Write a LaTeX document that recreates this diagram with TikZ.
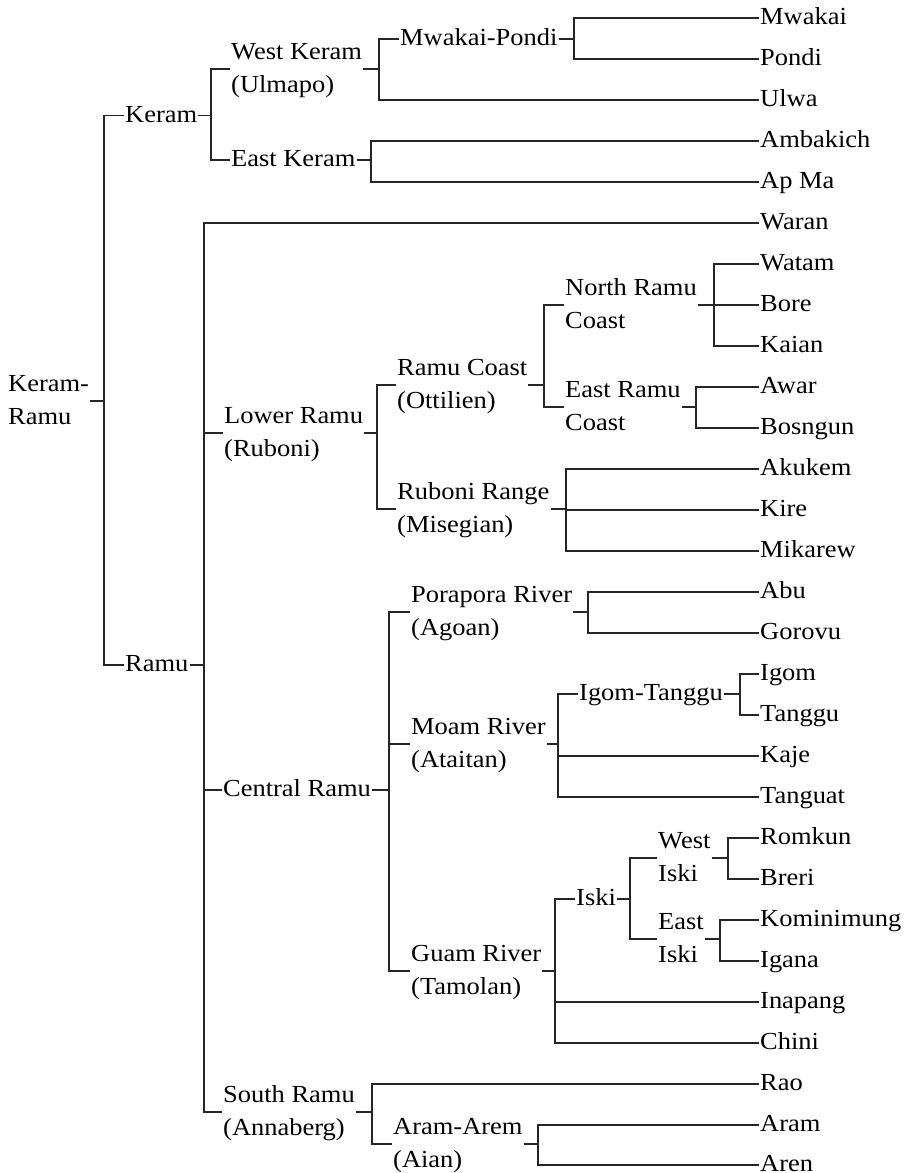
\documentclass[tikz,border=0pt]{standalone}
\usepackage{fontspec}
\setmainfont{Liberation Serif}[FakeStretch=1.08]
\tikzset{
  lbl/.style={anchor=west, align=left, inner sep=1pt, font=\fontsize{24.5}{33}\selectfont},
  link/.style={draw=black!85, line width=1.1pt},
}
\newcommand\tedge[3]{\draw[link] (#1.east) -- (#1.east -| #2) |- (#3.west);}
\newcommand\lf[3]{\node[lbl] (#1) at (759pt,-#2pt) {#3\strut};}
\begin{document}
\begin{tikzpicture}
\useasboundingbox (0,0) rectangle (908pt,-1173pt);
% internal nodes
\node[lbl] (root) at (7pt,-401pt) {Keram-\strut\\Ramu\strut};
\node[lbl] (keram) at (124pt,-115.7pt) {Keram\strut};
\node[lbl] (wk) at (230pt,-69pt) {West Keram\strut\\(Ulmapo)\strut};
\node[lbl] (mp) at (399pt,-39pt) {Mwakai-Pondi\strut};
\node[lbl] (ek) at (230pt,-160pt) {East Keram\strut};
\node[lbl] (ramu) at (124pt,-665pt) {Ramu\strut};
\node[lbl] (lr) at (223pt,-433pt) {Lower Ramu\strut\\(Ruboni)\strut};
\node[lbl] (rc) at (396pt,-385pt) {Ramu Coast\strut\\(Ottilien)\strut};
\node[lbl] (nrc) at (564pt,-305pt) {North Ramu\strut\\Coast\strut};
\node[lbl] (erc) at (564pt,-407pt) {East Ramu\strut\\Coast\strut};
\node[lbl] (rr) at (396pt,-509pt) {Ruboni Range\strut\\(Misegian)\strut};
\node[lbl] (cr) at (222pt,-790pt) {Central Ramu\strut};
\node[lbl] (pr) at (410pt,-612pt) {Porapora River\strut\\(Agoan)\strut};
\node[lbl] (mr) at (410pt,-744pt) {Moam River\strut\\(Ataitan)\strut};
\node[lbl] (it) at (578pt,-694pt) {Igom-Tanggu\strut};
\node[lbl] (gr) at (410pt,-971pt) {Guam River\strut\\(Tamolan)\strut};
\node[lbl] (iski) at (575pt,-899pt) {Iski\strut};
\node[lbl] (wi) at (657pt,-858pt) {West\strut\\Iski\strut};
\node[lbl] (ei) at (657pt,-939pt) {East\strut\\Iski\strut};
\node[lbl] (sr) at (222pt,-1112pt) {South Ramu\strut\\(Annaberg)\strut};
\node[lbl] (aa) at (392pt,-1144pt) {Aram-Arem\strut\\(Aian)\strut};
% leaves
\lf{mwakai}{18}{Mwakai}
\lf{pondi}{59}{Pondi}
\lf{ulwa}{100}{Ulwa}
\lf{ambakich}{141}{Ambakich}
\lf{apma}{182}{Ap Ma}
\lf{waran}{223}{Waran}
\lf{watam}{264}{Watam}
\lf{bore}{305}{Bore}
\lf{kaian}{346}{Kaian}
\lf{awar}{387}{Awar}
\lf{bosngun}{428}{Bosngun}
\lf{akukem}{469}{Akukem}
\lf{kire}{510}{Kire}
\lf{mikarew}{551}{Mikarew}
\lf{abu}{592}{Abu}
\lf{gorovu}{633}{Gorovu}
\lf{igom}{674}{Igom}
\lf{tanggu}{715}{Tanggu}
\lf{kaje}{756}{Kaje}
\lf{tanguat}{797}{Tanguat}
\lf{romkun}{838}{Romkun}
\lf{breri}{879}{Breri}
\lf{kominimung}{920}{Kominimung}
\lf{igana}{961}{Igana}
\lf{inapang}{1002}{Inapang}
\lf{chini}{1043}{Chini}
\lf{rao}{1084}{Rao}
\lf{aram}{1125}{Aram}
\lf{aren}{1165}{Aren}
% bar coordinates
\coordinate (b-root) at (104pt,0);
\coordinate (b-keram) at (211pt,0);
\coordinate (b-wk) at (379pt,0);
\coordinate (b-mp) at (574pt,0);
\coordinate (b-ek) at (371pt,0);
\coordinate (b-ramu) at (204pt,0);
\coordinate (b-lr) at (377pt,0);
\coordinate (b-rc) at (544pt,0);
\coordinate (b-nrc) at (714pt,0);
\coordinate (b-erc) at (696pt,0);
\coordinate (b-rr) at (566pt,0);
\coordinate (b-cr) at (389pt,0);
\coordinate (b-pr) at (588pt,0);
\coordinate (b-mr) at (558pt,0);
\coordinate (b-it) at (740pt,0);
\coordinate (b-gr) at (555pt,0);
\coordinate (b-iski) at (630pt,0);
\coordinate (b-wi) at (728pt,0);
\coordinate (b-ei) at (720pt,0);
\coordinate (b-sr) at (372pt,0);
\coordinate (b-aa) at (538pt,0);
% connectors
\tedge{root}{b-root}{keram}
\tedge{root}{b-root}{ramu}
\tedge{keram}{b-keram}{wk}
\tedge{keram}{b-keram}{ek}
\tedge{wk}{b-wk}{mp}
\tedge{wk}{b-wk}{ulwa}
\tedge{mp}{b-mp}{mwakai}
\tedge{mp}{b-mp}{pondi}
\tedge{ek}{b-ek}{ambakich}
\tedge{ek}{b-ek}{apma}
\tedge{ramu}{b-ramu}{waran}
\tedge{ramu}{b-ramu}{lr}
\tedge{ramu}{b-ramu}{cr}
\tedge{ramu}{b-ramu}{sr}
\tedge{lr}{b-lr}{rc}
\tedge{lr}{b-lr}{rr}
\tedge{rc}{b-rc}{nrc}
\tedge{rc}{b-rc}{erc}
\tedge{nrc}{b-nrc}{watam}
\tedge{nrc}{b-nrc}{bore}
\tedge{nrc}{b-nrc}{kaian}
\tedge{erc}{b-erc}{awar}
\tedge{erc}{b-erc}{bosngun}
\tedge{rr}{b-rr}{akukem}
\tedge{rr}{b-rr}{kire}
\tedge{rr}{b-rr}{mikarew}
\tedge{cr}{b-cr}{pr}
\tedge{cr}{b-cr}{mr}
\tedge{cr}{b-cr}{gr}
\tedge{pr}{b-pr}{abu}
\tedge{pr}{b-pr}{gorovu}
\tedge{mr}{b-mr}{it}
\tedge{mr}{b-mr}{kaje}
\tedge{mr}{b-mr}{tanguat}
\tedge{it}{b-it}{igom}
\tedge{it}{b-it}{tanggu}
\tedge{gr}{b-gr}{iski}
\tedge{gr}{b-gr}{inapang}
\tedge{gr}{b-gr}{chini}
\tedge{iski}{b-iski}{wi}
\tedge{iski}{b-iski}{ei}
\tedge{wi}{b-wi}{romkun}
\tedge{wi}{b-wi}{breri}
\tedge{ei}{b-ei}{kominimung}
\tedge{ei}{b-ei}{igana}
\tedge{sr}{b-sr}{rao}
\tedge{sr}{b-sr}{aa}
\tedge{aa}{b-aa}{aram}
\tedge{aa}{b-aa}{aren}
\end{tikzpicture}
\end{document}
